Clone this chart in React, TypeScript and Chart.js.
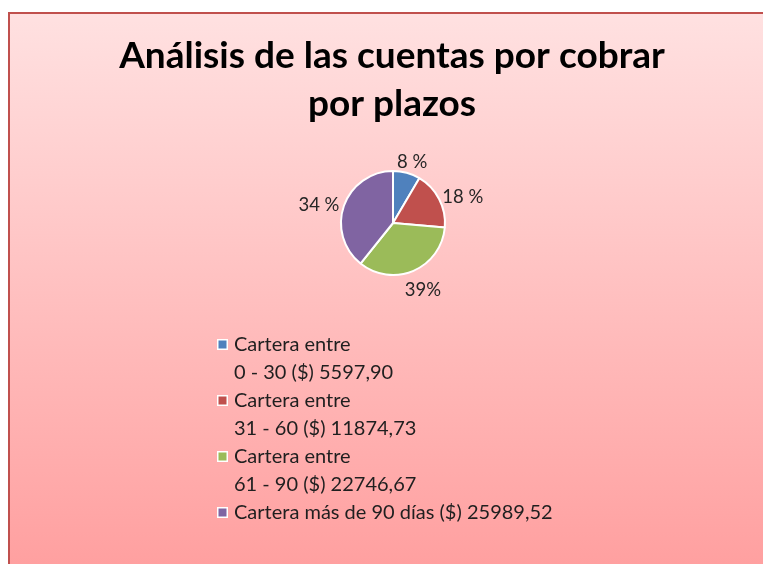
import React, { useEffect, useRef } from "react";
import { Chart, registerables } from "chart.js";

Chart.register(...registerables);

const titleLines = ["Análisis de las cuentas por cobrar", "por plazos"];
const categoryLines = [
  ["Cartera entre", "0 - 30 ($) 5597,90"],
  ["Cartera entre", "31 - 60 ($) 11874,73"],
  ["Cartera entre", "61 - 90 ($) 22746,67"],
  ["Cartera más de 90 días ($) 25989,52"],
];
const values = [5597.9, 11874.73, 22746.67, 25989.52];
const pointLabels = ["8 %", "18 %", "34 %", "39%"];
const labelOrder = [0, 1, 3, 2]; // shown labels as in the original picture
const colors = ["#4F81BD", "#C0504D", "#9BBB59", "#8064A2"];

const FONT = "Lato, 'Noto Sans', sans-serif";

const decorPlugin = {
  id: "decor",
  beforeDraw(chart: any) {
    const { ctx, width, height } = chart;
    ctx.save();
    ctx.fillStyle = "#ffffff";
    ctx.fillRect(0, 0, width, height);
    const g = ctx.createLinearGradient(0, 12, 0, height);
    g.addColorStop(0, "#FFE1E1");
    g.addColorStop(1, "#FFA0A0");
    ctx.fillStyle = g;
    ctx.fillRect(9, 13, width + 20, height + 20);
    ctx.strokeStyle = "#C0504D";
    ctx.lineWidth = 2;
    ctx.strokeRect(9, 13, width + 20, height + 20);
    ctx.restore();
  },
  afterDraw(chart: any) {
    const { ctx } = chart;
    ctx.save();
    // title
    ctx.fillStyle = "#000000";
    ctx.textAlign = "center";
    ctx.textBaseline = "alphabetic";
    ctx.font = `bold 37px ${FONT}`;
    ctx.fillText(titleLines[0], 392, 68);
    ctx.fillText(titleLines[1], 392, 116);

    // data labels
    const meta = chart.getDatasetMeta(0);
    ctx.font = `18.5px ${FONT}`;
    ctx.fillStyle = "#262626";
    ctx.textAlign = "center";
    ctx.textBaseline = "middle";
    meta.data.forEach((arc: any, i: number) => {
      const mid = (arc.startAngle + arc.endAngle) / 2;
      const dx = Math.cos(mid);
      const dy = Math.sin(mid);
      const text = pointLabels[labelOrder[i]];
      const w = ctx.measureText(text).width;
      const r = arc.outerRadius + 6;
      const x = arc.x + dx * r + dx * (w / 2);
      const y = arc.y + dy * r + dy * 10 + 5;
      ctx.fillText(text, x, y);
    });

    // legend
    ctx.font = `20px ${FONT}`;
    ctx.textAlign = "left";
    ctx.textBaseline = "alphabetic";
    let baseline = 351;
    categoryLines.forEach((lines, i) => {
      ctx.fillStyle = "#ffffff";
      ctx.fillRect(217, baseline - 12, 11, 11);
      ctx.fillStyle = colors[i];
      ctx.fillRect(218.5, baseline - 10.5, 8, 8);
      ctx.fillStyle = "#1f1f1f";
      lines.forEach((line) => {
        ctx.fillText(line, 234, baseline);
        baseline += 28;
      });
    });
    ctx.restore();
  },
};

export default function App() {
  const ref = useRef<HTMLCanvasElement>(null);
  useEffect(() => {
    document.body.style.margin = "0";
    document.body.style.overflow = "hidden";
    const chart = new Chart(ref.current!, {
      type: "pie",
      data: {
        labels: categoryLines.map((l) => l.join(" ")),
        datasets: [
          {
            data: values,
            backgroundColor: colors,
            borderColor: "#ffffff",
            borderWidth: 2,
          },
        ],
      },
      options: {
        responsive: false,
        animation: false,
        layout: { padding: { left: 340, right: 317, top: 170, bottom: 288 } },
        plugins: {
          legend: { display: false },
          title: { display: false },
          tooltip: { enabled: false },
        },
      },
      plugins: [decorPlugin],
    });
    return () => chart.destroy();
  }, []);
  return <canvas ref={ref} width={763} height={564} style={{ display: "block" }} />;
}
